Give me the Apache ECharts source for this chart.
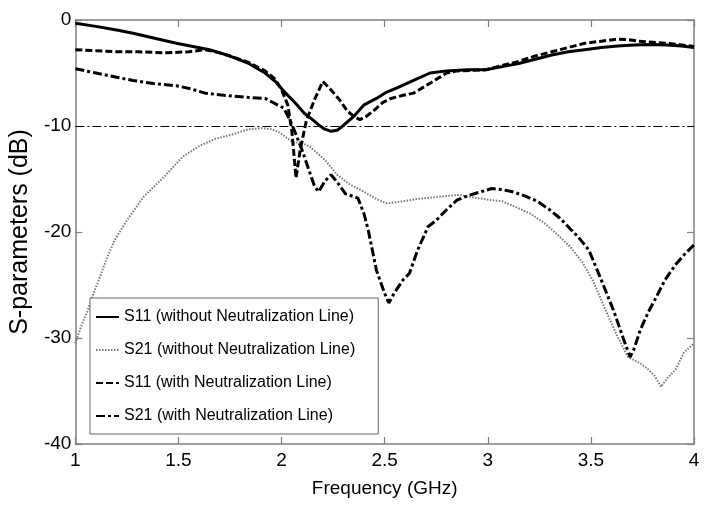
<!DOCTYPE html>
<html>
<head>
<meta charset="utf-8">
<script src="https://cdn.jsdelivr.net/npm/echarts@6/dist/echarts.min.js"></script>
<style>html,body{margin:0;padding:0;background:#fff}#c{width:708px;height:506px}</style>
</head>
<body>
<div id="c"></div>
<script>
// ---- data (frequency in GHz, level in dB) ----
const xTicks = ['1', '1.5', '2', '2.5', '3', '3.5', '4'];
const yTicks = ['0', '-10', '-20', '-30', '-40'];
const seriesNames = [
  'S11 (without Neutralization Line)',
  'S21 (without Neutralization Line)',
  'S11 (with Neutralization Line)',
  'S21 (with Neutralization Line)'
];
const refLevel = -10;

const s11WithoutF  = [1.0,1.1,1.2,1.28,1.4,1.49,1.57,1.65,1.75,1.84,1.92,1.97,2.02,2.07,2.11,2.15,2.18,2.21,2.24,2.27,2.29,2.32,2.35,2.40,2.46,2.51,2.56,2.64,2.72,2.80,2.90,2.99,3.07,3.15,3.23,3.31,3.39,3.47,3.55,3.63,3.71,3.79,3.87,3.94,4.0];
const s11WithoutDb = [-0.3,-0.6,-0.95,-1.25,-1.8,-2.2,-2.5,-2.8,-3.4,-4.1,-5.0,-5.8,-6.9,-7.9,-8.8,-9.4,-9.9,-10.3,-10.5,-10.4,-10.1,-9.6,-9.1,-8.0,-7.4,-6.8,-6.4,-5.7,-5.0,-4.8,-4.7,-4.7,-4.4,-4.1,-3.7,-3.3,-3.0,-2.8,-2.6,-2.45,-2.35,-2.3,-2.35,-2.45,-2.6];

const s21WithoutF  = [1.0,1.03,1.06,1.09,1.12,1.15,1.19,1.25,1.33,1.43,1.52,1.60,1.68,1.76,1.84,1.90,1.95,1.99,2.03,2.06,2.09,2.14,2.21,2.27,2.33,2.40,2.46,2.51,2.55,2.59,2.65,2.75,2.86,2.95,3.02,3.07,3.13,3.20,3.27,3.33,3.40,3.46,3.51,3.55,3.59,3.63,3.68,3.74,3.78,3.81,3.84,3.87,3.91,3.95,4.0];
const s21WithoutDb = [-30.5,-28.8,-27.4,-25.7,-24.2,-22.6,-20.8,-18.9,-16.7,-14.8,-12.9,-11.9,-11.2,-10.8,-10.3,-10.2,-10.3,-10.6,-11.2,-11.6,-11.5,-12.0,-13.2,-14.6,-15.5,-16.2,-16.9,-17.3,-17.2,-17.1,-16.9,-16.7,-16.5,-16.8,-17.0,-17.1,-17.6,-18.2,-19.1,-20.1,-21.4,-22.9,-24.6,-26.4,-28.2,-29.9,-31.8,-32.4,-33.0,-33.6,-34.6,-33.8,-33.0,-31.4,-30.5];

const s11WithF  = [1.0,1.1,1.2,1.3,1.44,1.55,1.63,1.7,1.75,1.84,1.92,1.97,2.0,2.03,2.05,2.07,2.09,2.12,2.16,2.2,2.24,2.28,2.32,2.35,2.38,2.41,2.45,2.49,2.53,2.59,2.64,2.70,2.75,2.80,2.85,2.92,2.99,3.07,3.15,3.23,3.31,3.39,3.47,3.55,3.63,3.68,3.73,3.8,3.87,3.94,4.0];
const s11WithDb = [-2.8,-2.9,-3.0,-3.0,-3.1,-3.0,-2.8,-3.1,-3.4,-4.0,-4.8,-5.6,-6.6,-8.0,-10.5,-14.9,-12.3,-9.5,-7.5,-5.8,-6.6,-7.5,-8.6,-9.1,-9.4,-9.1,-8.5,-7.8,-7.4,-7.1,-6.9,-6.2,-5.6,-5.0,-4.8,-4.75,-4.7,-4.3,-3.9,-3.4,-3.0,-2.6,-2.2,-2.0,-1.8,-1.85,-2.0,-2.1,-2.2,-2.35,-2.5];

const s21WithF  = [1.0,1.1,1.2,1.28,1.38,1.49,1.56,1.63,1.72,1.84,1.92,1.98,2.01,2.04,2.07,2.10,2.13,2.16,2.18,2.21,2.24,2.27,2.31,2.37,2.40,2.42,2.46,2.50,2.52,2.545,2.59,2.62,2.66,2.71,2.75,2.80,2.85,2.90,2.95,3.02,3.07,3.12,3.18,3.24,3.30,3.35,3.39,3.44,3.49,3.55,3.61,3.66,3.69,3.71,3.74,3.78,3.81,3.86,3.91,3.95,4.0];
const s21WithDb = [-4.6,-5.0,-5.4,-5.7,-6.0,-6.2,-6.5,-6.9,-7.1,-7.3,-7.4,-8.0,-8.3,-9.4,-10.8,-12.3,-14.0,-15.7,-16.2,-15.2,-14.6,-15.3,-16.4,-16.8,-18.3,-19.8,-23.6,-25.8,-26.7,-25.8,-24.5,-23.9,-21.7,-19.5,-18.9,-17.9,-17.0,-16.6,-16.3,-15.9,-16.0,-16.2,-16.6,-17.1,-17.9,-18.7,-19.5,-20.5,-21.7,-24.5,-27.4,-30.2,-31.8,-31.0,-29.2,-27.5,-26.4,-24.5,-23.1,-22.2,-21.2];

// ---- chart ----
const pairs = (f, d) => f.map((x, i) => [x, d[i]]);
const FONT = "'Liberation Sans', Arial, sans-serif";
const AX = '#808080';
const xMin = +xTicks[0], xMax = +xTicks[xTicks.length - 1];
const yMax = +yTicks[0], yMin = +yTicks[yTicks.length - 1];

const chart = echarts.init(document.getElementById('c'), null, {renderer: 'canvas'});

function xAxisCfg(pos, show) {
  return {
    type: 'value', position: pos, min: xMin, max: xMax, interval: 0.5,
    axisLine: {show: true, onZero: false, lineStyle: {color: AX, width: 1.5}},
    axisTick: {show: true, inside: true, length: 7, lineStyle: {color: AX, width: 1.2}},
    splitLine: {show: false},
    axisLabel: {show: show, color: '#000', fontFamily: FONT, fontSize: 19, margin: 7,
      formatter: v => xTicks.find(t => Math.abs(+t - v) < 1e-6) || ''}
  };
}
function yAxisCfg(pos, show) {
  return {
    type: 'value', position: pos, min: yMin, max: yMax, interval: 10,
    axisLine: {show: true, onZero: false, lineStyle: {color: AX, width: 1.5}},
    axisTick: {show: true, inside: true, length: 7, lineStyle: {color: AX, width: 1.2}},
    splitLine: {show: false},
    axisLabel: {show: show, color: '#000', fontFamily: FONT, fontSize: 19, margin: 4,
      formatter: v => yTicks.find(t => Math.abs(+t - v) < 1e-6) || ''}
  };
}

const xb = xAxisCfg('bottom', true);
xb.name = 'Frequency (GHz)';
xb.nameLocation = 'middle';
xb.nameGap = 35;
xb.nameTextStyle = {color: '#000', fontFamily: FONT, fontSize: 19};
const yl = yAxisCfg('left', true);
yl.name = 'S-parameters (dB)';
yl.nameLocation = 'middle';
yl.nameGap = 28;
yl.nameTextStyle = {color: '#000', fontFamily: FONT, fontSize: 25};

const lineSeries = (name, data, style) => ({
  name, type: 'line', data, symbol: 'none', showSymbol: false,
  xAxisIndex: 0, yAxisIndex: 0, lineStyle: style, itemStyle: {color: style.color},
  emphasis: {disabled: true}, animation: false, z: 3
});

const option = {
  backgroundColor: '#fff',
  animation: false,
  grid: {left: 68, right: 14, top: 20, bottom: 62, containLabel: false},
  xAxis: [xb, xAxisCfg('top', false)],
  yAxis: [yl, yAxisCfg('right', false)],
  legend: {
    data: seriesNames,
    orient: 'vertical',
    left: 90, top: 298,
    padding: [10, 23, 9, 5],
    itemWidth: 23, itemHeight: 18, itemGap: 15,
    backgroundColor: '#fff',
    borderColor: '#666', borderWidth: 1,
    itemStyle: {opacity: 0, borderWidth: 0},
    textStyle: {color: '#000', fontFamily: FONT, fontSize: 16, lineHeight: 18},
    selectedMode: false
  },
  series: [
    Object.assign(lineSeries(seriesNames[0], pairs(s11WithoutF, s11WithoutDb), {color: '#000', width: 3, type: 'solid'}), {
      markLine: {
        silent: true, symbol: 'none', label: {show: false}, animation: false,
        lineStyle: {color: '#000', width: 1.2, type: [9, 3, 2, 3]},
        data: [{yAxis: refLevel}]
      }
    }),
    lineSeries(seriesNames[1], pairs(s21WithoutF, s21WithoutDb), {color: '#777', width: 2, type: [1.5, 1.5]}),
    lineSeries(seriesNames[2], pairs(s11WithF, s11WithDb), {color: '#000', width: 3, type: [7, 3]}),
    lineSeries(seriesNames[3], pairs(s21WithF, s21WithDb), {color: '#000', width: 3, type: [9, 3, 3, 3]})
  ]
};
chart.setOption(option);
</script>
</body>
</html>
